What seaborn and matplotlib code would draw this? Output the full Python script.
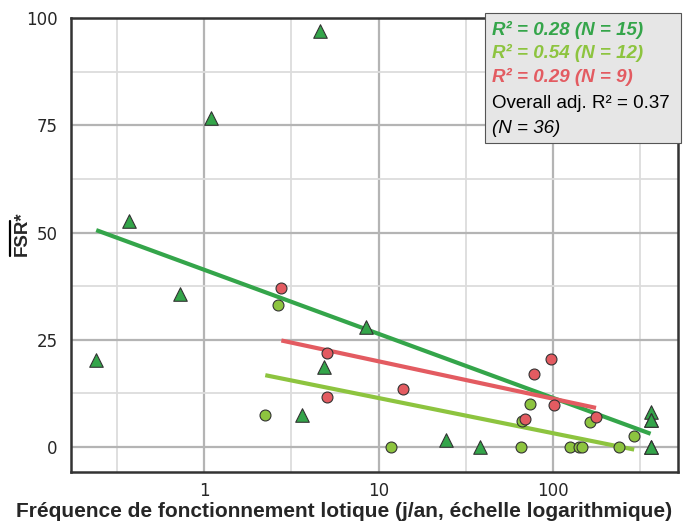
import numpy as np
import pandas as pd
import matplotlib
matplotlib.use("Agg")
import matplotlib.pyplot as plt
from matplotlib.lines import Line2D
import seaborn as sns

# groupe 1 : triangles vert foncé (N = 15)
g1_x = [0.24, 0.37, 0.73, 1.10, 3.63, 4.59, 4.86, 8.5, 24.4, 38.4, 364, 364, 364, 364, 364]
g1_y = [20.3, 52.7, 35.8, 76.7, 7.4, 96.9, 18.6, 28.1, 1.7, 0.0, 0.0, 8.3, 6.4, 0.0, 6.4]
# groupe 2 : cercles vert clair (N = 12)
g2_x = [2.24, 2.65, 11.8, 65.6, 66.2, 73.9, 126, 141, 148, 164, 240, 293]
g2_y = [7.4, 33.2, 0.0, 0.0, 6.0, 10.1, 0.0, 0.0, 0.0, 5.8, 0.0, 2.5]
# groupe 3 : cercles rouges (N = 9)
g3_x = [2.77, 5.03, 5.07, 13.9, 69.4, 77.6, 97.3, 102, 177]
g3_y = [37.2, 11.6, 22.0, 13.6, 6.6, 17.1, 20.6, 9.8, 7.0]

groups = ["g1", "g2", "g3"]
colors = {"g1": "#34a54a", "g2": "#8dc43f", "g3": "#e35b61"}
markers = {"g1": "^", "g2": "o", "g3": "o"}
sizes = {"g1": 95, "g2": 62, "g3": 62}
stats_txt = ["R² = 0.28 (N = 15)", "R² = 0.54 (N = 12)", "R² = 0.29 (N = 9)"]

df = pd.concat([
    pd.DataFrame({"x": g1_x, "y": g1_y, "grp": "g1"}),
    pd.DataFrame({"x": g2_x, "y": g2_y, "grp": "g2"}),
    pd.DataFrame({"x": g3_x, "y": g3_y, "grp": "g3"}),
])

sns.set_style("white")
plt.rcParams['font.family'] = ['Liberation Sans', 'DejaVu Sans']

fig = plt.figure(figsize=(6.88, 5.24), dpi=100)
ax = fig.add_axes([0.1032, 0.0992, 0.8823, 0.8664])
ax.set_xscale("log")

# droites de régression (y ~ log x)
for g in groups:
    sub = df[df.grp == g]
    sns.regplot(data=sub, x="x", y="y", logx=True, ci=None, scatter=False,
                color=colors[g], line_kws={"lw": 3.0, "zorder": 3, "solid_capstyle": "butt"}, ax=ax)

for g in groups:
    sub = df[df.grp == g]
    sns.scatterplot(data=sub, x="x", y="y", color=colors[g], marker=markers[g], s=sizes[g],
                    edgecolor="#333333", linewidth=0.8, zorder=4, ax=ax, legend=False)

ax.set_xlim(0.172, 523)
ax.set_ylim(-5.8, 100)
ax.set_xticks([1, 10, 100])
ax.set_xticklabels(["1", "10", "100"])
ax.set_xticks([10 ** -0.5, 10 ** 0.5, 10 ** 1.5, 10 ** 2.5], minor=True)
ax.set_yticks([0, 25, 50, 75, 100])
ax.set_yticks([12.5, 37.5, 62.5, 87.5], minor=True)
ax.tick_params(axis="x", which="minor", length=0)
ax.tick_params(axis="y", which="minor", length=0)
ax.tick_params(which="major", length=6, width=2, color="#222222", labelsize=12, direction="out",
               labelfontfamily="DejaVu Sans")
ax.tick_params(axis="x", which="major", pad=1.5)
ax.grid(which="major", color="#b4b4b4", lw=1.6, zorder=0)
ax.grid(which="minor", color="#dcdcdc", lw=1.3, zorder=0)
ax.set_axisbelow(True)
for sp in ax.spines.values():
    sp.set_color("#333333")
    sp.set_linewidth(1.8)

ax.set_xlabel("Fréquence de fonctionnement lotique (j/an, échelle logarithmique)",
              fontsize=15, fontweight="bold")
ax.xaxis.set_label_coords(0.45, -0.066)
ax.set_ylabel("FSR*", fontsize=13.5, fontweight="bold")
ax.yaxis.set_label_coords(-0.066, 0.524)
# barre au-dessus de FSR (moyenne)
fig.add_artist(Line2D([10 / 688, 10 / 688], [1 - 221 / 524, 1 - 256 / 524],
                      color="black", lw=1.6, transform=fig.transFigure))

# encadré des statistiques
box = plt.Rectangle((0.682, 0.7247), 0.323, 0.286, transform=ax.transAxes, facecolor="#e6e6e6",
                    edgecolor="#555555", lw=0.8, zorder=6, clip_on=False)
ax.add_patch(box)
ys = [0.9736, 0.922, 0.871, 0.811, 0.756]
for i, g in enumerate(groups):
    ax.text(0.694, ys[i], stats_txt[i], transform=ax.transAxes, color=colors[g], fontsize=13.5,
            fontweight="bold", fontstyle="italic", va="center", zorder=7)
ax.text(0.694, ys[3], "Overall adj. R² = 0.37", transform=ax.transAxes, color="black",
        fontsize=13.5, va="center", zorder=7)
ax.text(0.694, ys[4], "(N = 36)", transform=ax.transAxes, color="black", fontsize=13.5,
        fontstyle="italic", va="center", zorder=7)

fig.savefig("out.png", dpi=100)
